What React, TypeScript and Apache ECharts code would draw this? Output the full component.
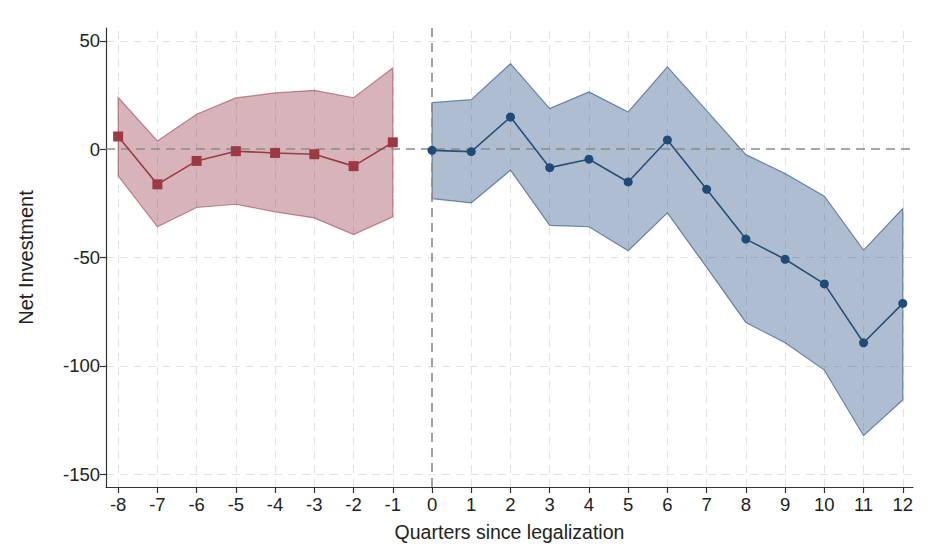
import React, { useEffect, useRef } from "react";
import * as echarts from "echarts";

const quarters = [-8, -7, -6, -5, -4, -3, -2, -1, 0, 1, 2, 3, 4, 5, 6, 7, 8, 9, 10, 11, 12];
const yTicks = [50, 0, -50, -100, -150];

const preX = [-8, -7, -6, -5, -4, -3, -2, -1];
const preCoef = [5.9, -16.2, -5.4, -0.9, -1.7, -2.3, -7.8, 3.2];
const preUpper = [23.9, 3.8, 16.2, 23.7, 26.0, 27.2, 23.8, 37.5];
const preLower = [-12.3, -35.8, -26.9, -25.4, -28.9, -31.7, -39.4, -31.2];

const postX = [0, 1, 2, 3, 4, 5, 6, 7, 8, 9, 10, 11, 12];
const postCoef = [-0.5, -1.1, 14.9, -8.5, -4.6, -15.1, 4.3, -18.5, -41.5, -50.8, -62.2, -89.4, -71.2];
const postUpper = [21.5, 22.9, 39.5, 18.8, 26.5, 17.2, 38.0, 17.8, -2.5, -11.2, -21.7, -46.6, -27.4];
const postLower = [-22.8, -24.8, -9.7, -35.2, -35.8, -46.9, -29.4, -54.6, -80.0, -89.4, -102.0, -132.3, -115.8];

function band(xs: number[], upper: number[], lower: number[], fill: string, stroke: string) {
  return {
    type: "custom",
    z: 1,
    silent: true,
    data: [[xs[0], upper[0]]],
    renderItem: (params: any, api: any) => {
      if (params.dataIndex !== 0) return null;
      const top = xs.map((x, i) => api.coord([x, upper[i]]));
      const bot = xs.map((x, i) => api.coord([x, lower[i]])).reverse();
      return {
        type: "polygon",
        shape: { points: top.concat(bot) },
        style: { fill, stroke, lineWidth: 1.2 },
      };
    },
  };
}

export default function App() {
  const ref = useRef<HTMLDivElement>(null);
  useEffect(() => {
    if (!ref.current) return;
    const chart = echarts.init(ref.current, undefined, { renderer: "svg" });
    const font = "Liberation Sans, Arial, sans-serif";
    const gridLineStyle = { color: "#e2e2e2", type: [8, 6] as any, width: 1 };
    chart.setOption({
      animation: false,
      backgroundColor: "#ffffff",
      grid: { left: 106, right: 23, top: 28, bottom: 73, containLabel: false },
      xAxis: {
        type: "value",
        min: -8.31,
        max: 12.26,
        name: "Quarters since legalization",
        nameLocation: "middle",
        nameGap: 35,
        nameTextStyle: { fontSize: 19.5, color: "#222", fontFamily: font },
        axisLine: { show: true, onZero: false, lineStyle: { color: "#333", width: 1.2 } },
        axisTick: { show: true, length: 6, customValues: quarters, lineStyle: { color: "#333", width: 1.2 } },
        axisLabel: { customValues: quarters, fontSize: 18.5, color: "#222", fontFamily: font, margin: 8 },
        splitLine: { show: false },
      },
      yAxis: {
        type: "value",
        min: -156,
        max: 56,
        name: "Net Investment",
        nameLocation: "middle",
        nameGap: 70,
        nameTextStyle: { fontSize: 20, color: "#222", fontFamily: font },
        axisLine: { show: true, onZero: false, lineStyle: { color: "#333", width: 1.2 } },
        axisTick: { show: true, length: 6, customValues: yTicks, lineStyle: { color: "#333", width: 1.2 } },
        axisLabel: { customValues: yTicks, fontSize: 18.5, color: "#222", fontFamily: font, margin: 6 },
        splitLine: { show: false },
      },
      series: [
        {
          type: "line",
          z: 0,
          data: [],
          silent: true,
          markLine: {
            z: 0,
            silent: true,
            symbol: "none",
            label: { show: false },
            lineStyle: gridLineStyle,
            data: [
              ...yTicks.filter((v) => v !== 0).map((v) => ({ yAxis: v })),
              ...quarters.filter((v) => v !== 0).map((v) => ({ xAxis: v })),
            ],
          },
        },
        band(preX, preUpper, preLower, "rgba(140, 40, 58, 0.35)", "rgba(150, 50, 65, 0.55)"),
        band(postX, postUpper, postLower, "rgba(35, 75, 125, 0.37)", "rgba(45, 85, 130, 0.65)"),
        {
          type: "line",
          z: 2,
          data: [],
          silent: true,
          markLine: {
            z: 2,
            silent: true,
            symbol: "none",
            label: { show: false },
            lineStyle: { color: "#8a8a8a", type: [9, 6] as any, width: 1.6 },
            data: [{ yAxis: 0 }, { xAxis: 0 }],
          },
        },
        {
          type: "line",
          z: 3,
          data: preX.map((x, i) => [x, preCoef[i]]),
          symbol: "rect",
          symbolSize: 10,
          itemStyle: { color: "#9c3a44" },
          lineStyle: { color: "#9c3a44", width: 1.6 },
        },
        {
          type: "line",
          z: 3,
          data: postX.map((x, i) => [x, postCoef[i]]),
          symbol: "circle",
          symbolSize: 9,
          itemStyle: { color: "#1f4b76" },
          lineStyle: { color: "#26507a", width: 1.6 },
        },
      ],
    });
    return () => chart.dispose();
  }, []);
  return <div ref={ref} style={{ position: "absolute", left: 0, top: 0, width: 936, height: 560 }} />;
}
